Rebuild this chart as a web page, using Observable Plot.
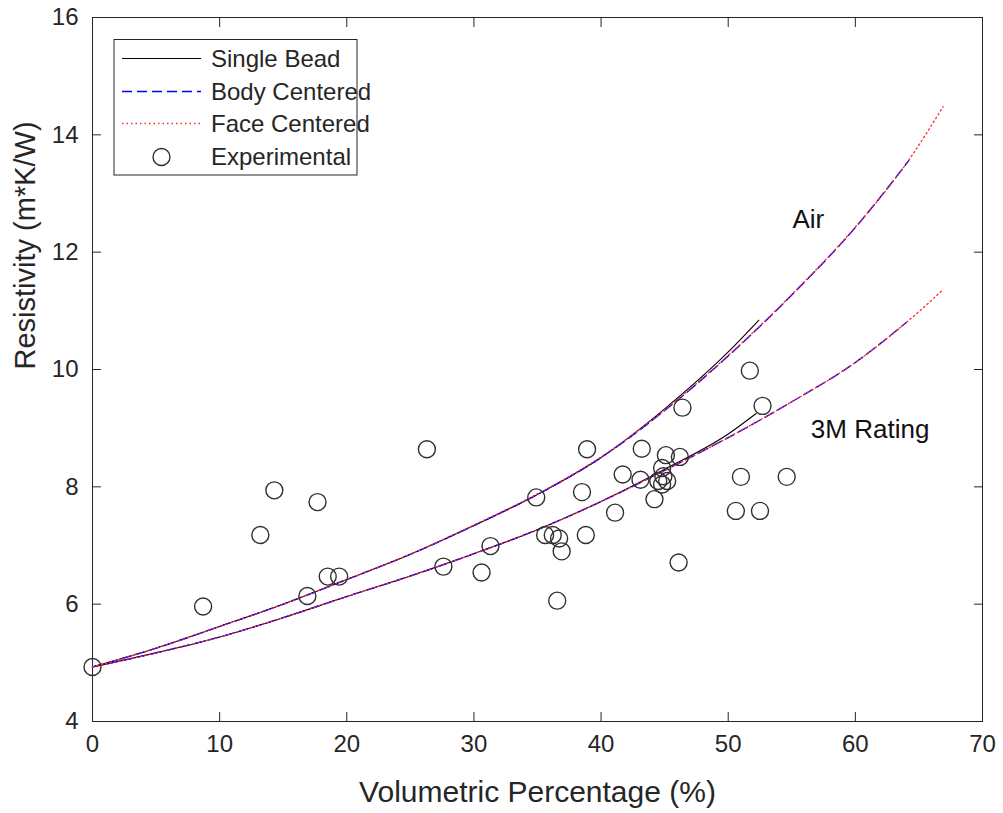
<!DOCTYPE html>
<html>
<head>
<meta charset="utf-8">
<script src="https://cdn.jsdelivr.net/npm/d3@7"></script>
<script src="https://cdn.jsdelivr.net/npm/@observablehq/plot@0.6"></script>
<style>
  html, body { margin: 0; padding: 0; background: #fff; }
  #wrap { position: relative; width: 1003px; height: 813px; }
  #legend { position: absolute; left: 0; top: 0; pointer-events: none; }
</style>
</head>
<body>
<div id="wrap"></div>
<script>
// ---------- data ----------
// Single Bead model
const singleAirX = [0, 5, 10, 15, 20, 25, 30, 35, 40, 45, 50, 52.4];
const singleAirY = [4.93, 5.25, 5.62, 6.0, 6.42, 6.85, 7.34, 7.87, 8.5, 9.33, 10.3, 10.84];
const single3MX = [0, 5, 10, 15, 20, 25, 30, 35, 40, 45, 50, 52.2];
const single3MY = [4.93, 5.17, 5.44, 5.77, 6.13, 6.48, 6.86, 7.27, 7.75, 8.3, 8.9, 9.25];
// Body Centered model
const bodyAirX = [0, 5, 10, 15, 20, 25, 30, 35, 40, 45, 50, 55, 60, 64.2];
const bodyAirY = [4.93, 5.25, 5.62, 6.0, 6.42, 6.85, 7.34, 7.87, 8.5, 9.3, 10.23, 11.27, 12.42, 13.56];
const body3MX = [0, 5, 10, 15, 20, 25, 30, 35, 40, 45, 50, 55, 60, 64];
const body3MY = [4.93, 5.17, 5.44, 5.77, 6.13, 6.48, 6.86, 7.27, 7.75, 8.28, 8.84, 9.45, 10.12, 10.8];
// Face Centered model
const faceAirX = [0, 5, 10, 15, 20, 25, 30, 35, 40, 45, 50, 55, 60, 64.2, 66.9];
const faceAirY = [4.93, 5.25, 5.62, 6.0, 6.42, 6.85, 7.35, 7.88, 8.51, 9.31, 10.24, 11.28, 12.43, 13.57, 14.48];
const face3MX = [0, 5, 10, 15, 20, 25, 30, 35, 40, 45, 50, 55, 60, 64, 66.9];
const face3MY = [4.93, 5.17, 5.44, 5.77, 6.13, 6.48, 6.86, 7.27, 7.75, 8.28, 8.84, 9.45, 10.12, 10.8, 11.36];
// Experimental points
const expX = [0, 8.7, 13.2, 14.3, 16.9, 17.7, 18.5, 19.4, 26.3, 27.6, 30.6, 31.3, 34.9, 35.6, 36.2, 36.55, 36.7, 36.9,
              38.5, 38.8, 38.9, 41.1, 41.7, 43.1, 43.2, 44.2, 44.5, 44.8, 44.8, 44.9, 45.1, 45.2, 46.1, 46.2, 46.4,
              50.6, 51.0, 51.7, 52.5, 52.7, 54.6];
const expY = [4.93, 5.96, 7.18, 7.94, 6.14, 7.74, 6.47, 6.47, 8.64, 6.64, 6.54, 6.99, 7.82, 7.18, 7.18, 6.06, 7.12, 6.9,
              7.91, 7.18, 8.64, 7.56, 8.21, 8.12, 8.65, 7.79, 8.1, 8.32, 8.04, 8.18, 8.54, 8.1, 6.71, 8.51, 9.35,
              7.59, 8.17, 9.98, 7.59, 9.38, 8.17];
// Annotations
const annoText = ["Air", "3M Rating"];
const annoX = [55.05, 56.5];
const annoY = [12.55, 8.98];
// Axes
const xTicks = [0, 10, 20, 30, 40, 50, 60, 70];
const yTicks = [4, 6, 8, 10, 12, 14, 16];
const xLabel = "Volumetric Percentage (%)";
const yLabel = "Resistivity (m*K/W)";
const legendLabels = ["Single Bead", "Body Centered", "Face Centered", "Experimental"];

// ---------- tables ----------
const series = (xs, ys, medium) => xs.map((x, i) => ({x, y: ys[i], medium}));
const singleData = [...series(singleAirX, singleAirY, "Air"), ...series(single3MX, single3MY, "3M")];
const bodyData = [...series(bodyAirX, bodyAirY, "Air"), ...series(body3MX, body3MY, "3M")];
const faceData = [...series(faceAirX, faceAirY, "Air"), ...series(face3MX, face3MY, "3M")];
const expData = expX.map((x, i) => ({x, y: expY[i]}));
const annoData = annoText.map((t, i) => ({text: t, x: annoX[i], y: annoY[i]}));

const FONT = "'Liberation Sans', Arial, Helvetica, sans-serif";
const INK = "#262626";
const TK = 9; // inward tick length
const blank = () => "";

const chart = Plot.plot({
  width: 1003,
  height: 813,
  marginLeft: 92,
  marginRight: 21,
  marginTop: 17,
  marginBottom: 92,
  style: {fontFamily: FONT, fontSize: "24px", color: INK, background: "#fff"},
  x: {domain: [0, 70]},
  y: {domain: [4, 16]},
  marks: [
    Plot.frame({stroke: INK, strokeWidth: 1}),
    // tick labels
    Plot.axisX(xTicks, {anchor: "bottom", tickSize: 0, tickPadding: 13, fontSize: 24, color: INK, tickFormat: d => String(d), label: null}),
    Plot.axisY(yTicks, {anchor: "left", tickSize: 0, tickPadding: 14, fontSize: 24, color: INK, tickFormat: d => String(d), label: null}),
    // inward ticks on all four sides
    Plot.axisX(xTicks, {anchor: "bottom", tickSize: TK, dy: -TK, tickFormat: blank, label: null, color: INK}),
    Plot.axisX(xTicks, {anchor: "top", tickSize: TK, dy: TK, tickFormat: blank, label: null, color: INK}),
    Plot.axisY(yTicks, {anchor: "left", tickSize: TK, dx: TK, tickFormat: blank, label: null, color: INK}),
    Plot.axisY(yTicks, {anchor: "right", tickSize: TK, dx: -TK, tickFormat: blank, label: null, color: INK}),
    // axis titles
    Plot.text([xLabel], {text: d => d, frameAnchor: "bottom", dy: 80, fontSize: 30, fill: INK}),
    Plot.text([yLabel], {text: d => d, frameAnchor: "left", rotate: -90, dx: -67, fontSize: 29, fill: INK}),
    // model curves
    Plot.line(singleData, {x: "x", y: "y", z: "medium", stroke: "#000", strokeWidth: 1.1, curve: "monotone-x"}),
    Plot.line(bodyData, {x: "x", y: "y", z: "medium", stroke: "#0000ff", strokeWidth: 1.4, strokeDasharray: "10,5", curve: "monotone-x"}),
    Plot.line(faceData, {x: "x", y: "y", z: "medium", stroke: "#ff2a2a", strokeWidth: 1.3, strokeDasharray: "1.5,3", curve: "monotone-x"}),
    // experimental points
    Plot.dot(expData, {x: "x", y: "y", r: 8.5, stroke: "#303030", strokeWidth: 1.4, fill: "none"}),
    // annotations
    Plot.text(annoData, {x: "x", y: "y", text: "text", textAnchor: "start", fontSize: 26, fill: "#111"})
  ]
});
const wrap = document.getElementById("wrap");
wrap.appendChild(chart);

// ---------- legend (box in upper-left of the axes) ----------
const lg = d3.select(wrap).append("svg")
  .attr("id", "legend").attr("width", 1003).attr("height", 813)
  .style("font-family", FONT);
lg.append("rect").attr("x", 114).attr("y", 39.5).attr("width", 243).attr("height", 135.5)
  .attr("fill", "#fff").attr("stroke", INK).attr("stroke-width", 1);
const rowY = [58.5, 91.5, 123.5, 157];
const styles = [
  {stroke: "#000", dash: null, w: 1.1},
  {stroke: "#0000ff", dash: "10,5", w: 1.4},
  {stroke: "#ff2a2a", dash: "1.5,3", w: 1.3},
  null
];
legendLabels.forEach((label, i) => {
  const s = styles[i];
  if (s) {
    lg.append("line").attr("x1", 122).attr("x2", 201).attr("y1", rowY[i]).attr("y2", rowY[i])
      .attr("stroke", s.stroke).attr("stroke-width", s.w).attr("stroke-dasharray", s.dash);
  } else {
    lg.append("circle").attr("cx", 161.5).attr("cy", rowY[i]).attr("r", 8.5)
      .attr("fill", "none").attr("stroke", "#303030").attr("stroke-width", 1.4);
  }
  lg.append("text").attr("x", 211).attr("y", rowY[i]).attr("dy", "0.35em")
    .attr("font-size", 24).attr("fill", INK).text(label);
});
</script>
</body>
</html>
